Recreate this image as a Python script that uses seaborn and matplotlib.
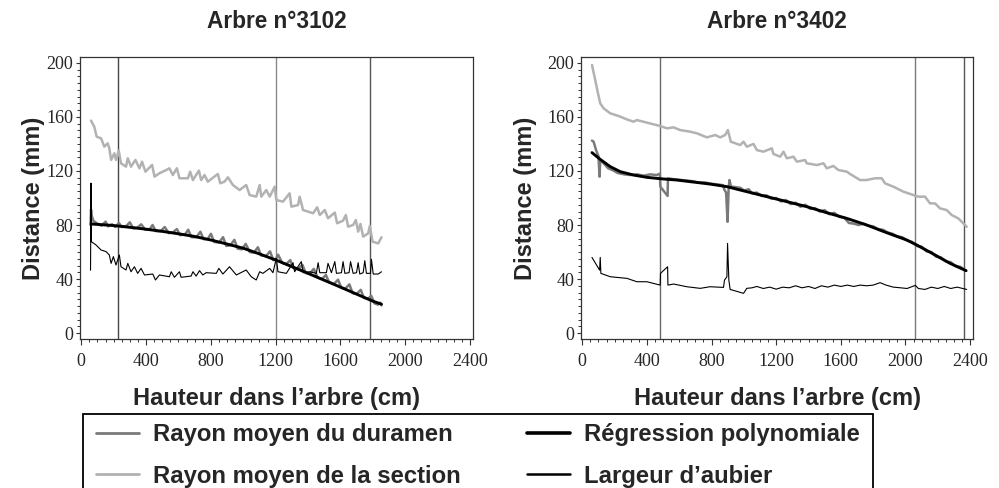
import matplotlib
matplotlib.use("Agg")
import matplotlib.pyplot as plt
import matplotlib.patches as mpatches
from matplotlib.lines import Line2D
from matplotlib.ticker import MultipleLocator, FixedLocator
import seaborn as sns
import pandas as pd

# ---------------- Arbre n°3102 ----------------
t1_section_x = [60, 80, 95, 122, 142, 163, 173, 184, 204, 214, 231, 245, 276, 287, 307, 334, 359, 375,
                396, 437, 452, 482, 524, 544, 565, 590, 606, 658, 672, 689, 726, 740, 761, 781, 843, 858,
                884, 905, 936, 977, 1018, 1039, 1080, 1101, 1111, 1142, 1163, 1194, 1204, 1245, 1286,
                1297, 1338, 1348, 1369, 1431, 1456, 1472, 1503, 1523, 1565, 1579, 1616, 1633, 1647, 1678,
                1695, 1709, 1723, 1740, 1771, 1781, 1798, 1833, 1853]
t1_section_y = [157.3, 152.8, 145.4, 144.2, 138.0, 140.5, 136.8, 128.2, 133.1, 128.2, 135.1, 125.7, 123.2,
                129.4, 123.2, 128.2, 122.0, 126.9, 119.5, 124.5, 115.8, 118.3, 120.7, 122.0, 117.0, 122.0,
                114.6, 114.6, 119.5, 113.3, 120.3, 113.3, 117.0, 112.1, 117.8, 110.9, 112.1, 115.3, 109.6,
                105.9, 109.6, 102.2, 101.0, 109.6, 101.0, 105.9, 101.0, 108.4, 98.5, 97.3, 103.5, 93.6,
                94.8, 101.0, 91.1, 88.7, 93.1, 87.4, 91.1, 85.0, 89.2, 81.3, 83.2, 87.4, 78.8, 80.0, 83.7,
                75.1, 80.8, 71.4, 73.8, 79.3, 67.7, 66.4, 70.9]

t1_duramen_x = [57, 60, 64, 75, 100, 125, 150, 165, 190, 210, 232, 250, 275, 300, 320, 345, 370, 395, 420,
                440, 460, 490, 515, 540, 565, 590, 610, 640, 660, 680, 710, 735, 755, 780, 800, 820, 850,
                875, 895, 920, 945, 965, 990, 1015, 1040, 1065, 1090, 1110, 1140, 1165, 1185, 1200, 1215,
                1240, 1265, 1290, 1310, 1340, 1365, 1385, 1410, 1435, 1460, 1485, 1510, 1530, 1560, 1585,
                1605, 1630, 1655, 1675, 1700, 1725, 1745, 1770, 1790, 1810, 1830, 1845, 1853]
t1_duramen_y = [80, 91.5, 87, 83, 81, 79.5, 82.5, 79, 80.5, 78.5, 81.5, 78.5, 79, 82, 77.5, 78, 80.5, 76.5,
                76.5, 80, 75.5, 75.5, 78.5, 74, 74.5, 77, 72.5, 73, 76.5, 71, 71, 75, 69.5, 69.5, 73.5, 67.5,
                67, 71, 64.5, 65, 69, 62.5, 62, 66, 60, 59.5, 63.5, 57.5, 57, 60.5, 54, 54.5, 58, 52, 51, 54,
                48, 47.5, 50.5, 44.5, 44, 47.5, 41, 40, 43, 37.5, 36.5, 39.5, 33.5, 33, 36, 29.5, 29, 32, 26,
                25.5, 27.5, 22, 21, 22.5, 20.5]

t1_regression_x = [60, 200, 300, 400, 500, 600, 700, 800, 900, 1000, 1100, 1200, 1300, 1400, 1500, 1600,
                   1700, 1800, 1853]
t1_regression_y = [80.8, 79.6, 78.3, 76.9, 75.3, 73.5, 71.5, 68.9, 65.9, 62.8, 58.6, 54.1, 49.2, 44.2,
                   39.1, 34.0, 28.8, 23.6, 21.4]

t1_aubier_x = [57, 60, 62, 91, 122, 153, 173, 184, 198, 214, 235, 245, 276, 287, 307, 328, 348, 369, 390,
               441, 458, 482, 544, 555, 575, 606, 616, 678, 689, 709, 730, 750, 771, 833, 849, 874, 915,
               957, 1018, 1049, 1080, 1101, 1121, 1163, 1183, 1204, 1214, 1266, 1307, 1317, 1358, 1369,
               1410, 1451, 1462, 1472, 1513, 1523, 1544, 1565, 1575, 1606, 1616, 1627, 1653, 1662, 1678,
               1699, 1709, 1719, 1740, 1750, 1760, 1785, 1791, 1802, 1833, 1853]
t1_aubier_y = [46.5, 111, 67.7, 65.2, 61.5, 60.3, 57.8, 51.6, 56.6, 50.4, 57.8, 49.1, 46.7, 51.6, 45.4,
               49.1, 44.2, 47.9, 43.0, 43.7, 39.3, 43.0, 41.7, 45.4, 41.3, 45.4, 41.3, 42.2, 45.4, 42.2,
               46.2, 43.0, 44.7, 44.2, 47.9, 43.7, 49.1, 43.0, 46.7, 41.7, 39.3, 45.4, 44.2, 47.9, 44.7,
               55.3, 45.4, 44.2, 52.1, 45.4, 52.9, 44.7, 45.4, 44.2, 52.1, 44.7, 44.7, 51.6, 44.7, 52.9,
               44.2, 44.7, 52.9, 44.2, 44.7, 52.9, 44.2, 44.7, 52.1, 43.7, 44.7, 53.6, 44.2, 44.2, 54.6,
               43.7, 43.7, 45.4]

t1_vlines = [224, 1200, 1783]

# ---------------- Arbre n°3402 ----------------
t2_section_x = [60, 80, 95, 111, 132, 173, 225, 276, 317, 338, 400, 482, 524, 565, 606, 668, 709, 771, 823,
                853, 884, 901, 919, 977, 998, 1018, 1060, 1080, 1121, 1173, 1183, 1225, 1245, 1266, 1307,
                1328, 1379, 1389, 1451, 1493, 1513, 1554, 1585, 1637, 1657, 1719, 1760, 1812, 1853, 1874,
                1925, 1987, 2049, 2080, 2121, 2152, 2183, 2214, 2255, 2286, 2327, 2358, 2379]
t2_section_y = [198.5, 187.4, 178.7, 170.1, 166.4, 162.7, 160.7, 158.2, 156.5, 157.7, 155.8, 153.3, 151.6,
                152.3, 150.3, 149.1, 147.9, 144.9, 146.6, 144.9, 146.6, 150.3, 141.7, 139.2, 141.7, 138.0,
                140.0, 135.5, 134.3, 136.8, 132.6, 130.6, 134.3, 129.4, 130.6, 126.9, 128.1, 125.7, 124.4,
                125.7, 122.0, 123.7, 120.7, 119.5, 117.8, 113.3, 113.3, 114.6, 114.6, 110.8, 108.4, 104.7,
                102.2, 101.0, 101.0, 96.0, 96.0, 92.3, 91.1, 87.4, 84.9, 81.2, 78.7]

t2_duramen_x = [60, 70, 85, 100, 107, 111, 132, 160, 190, 220, 260, 300, 340, 380, 420, 460, 480, 483, 528,
                530, 560, 600, 640, 680, 720, 760, 800, 840, 870, 880, 890, 899, 906, 911, 920, 950, 980,
                1000, 1030, 1050, 1080, 1110, 1140, 1170, 1200, 1230, 1260, 1290, 1320, 1350, 1380, 1410,
                1440, 1470, 1500, 1530, 1560, 1590, 1620, 1650, 1680, 1710, 1740, 1770, 1800, 1830, 1860,
                1890, 1920, 1950, 1980, 2010, 2040, 2070, 2100, 2130, 2160, 2190, 2220, 2250, 2280, 2310,
                2340, 2375]
t2_duramen_y = [142.5, 141.7, 135.5, 131, 115.8, 128.1, 125.7, 122, 120.5, 118.5, 117.5, 117, 117.5, 116.5,
                117.5, 117, 118, 108.4, 101.5, 114.6, 114, 113.5, 113, 112.5, 111.5, 111.5, 110.5, 110,
                109.5, 106, 104, 82.4, 108, 113.3, 108.5, 108, 107.5, 105.5, 106.5, 103.5, 104, 101.5, 102,
                99.5, 100, 97.5, 98.5, 95.5, 96.5, 93.5, 95, 92, 92.5, 90, 91, 88, 89, 86, 85.5, 81.5, 81,
                80, 81, 79.5, 79, 77, 76.5, 74.5, 73.5, 71.5, 71, 68.5, 67.5, 64.5, 64, 60.5, 60, 56.5, 56,
                53, 52.5, 49.5, 49, 46]

t2_regression_x = [60, 111, 173, 235, 317, 400, 482, 585, 689, 792, 895, 1018, 1142, 1266, 1389, 1513,
                   1637, 1760, 1884, 2008, 2070, 2173, 2276, 2375]
t2_regression_y = [133.6, 128.6, 123.2, 119.5, 117.0, 115.3, 114.3, 113.3, 111.8, 110.3, 108.4, 104.7,
                   101.0, 97.3, 93.6, 89.1, 84.9, 80.0, 74.3, 68.9, 65.2, 58.5, 51.6, 46.2]

t2_aubier_x = [60, 107, 111, 115, 173, 276, 338, 400, 482, 484, 528, 530, 565, 647, 730, 790, 874, 880, 895,
               899, 907, 915, 998, 1018, 1050, 1080, 1120, 1160, 1200, 1240, 1280, 1320, 1360, 1400, 1440,
               1480, 1520, 1560, 1600, 1640, 1680, 1720, 1760, 1800, 1843, 1880, 1925, 1970, 2010, 2061,
               2080, 2121, 2160, 2200, 2240, 2280, 2320, 2379]
t2_aubier_y = [56.0, 46.6, 56.0, 44.2, 41.7, 40.5, 38.0, 38.0, 35.5, 44.2, 49.1, 35.5, 36.3, 34.3, 33.1,
               34.3, 33.8, 39.2, 41.7, 66.4, 39.2, 32.3, 29.4, 33.1, 33.5, 34.5, 33, 34, 32.5, 34, 33.5, 35,
               33.5, 34.5, 33, 35, 34, 35.5, 34.5, 35.5, 34.5, 35.5, 35, 35.5, 37.3, 35.5, 34, 33.5, 33,
               35.3, 33, 32.3, 34, 33, 34.5, 33, 34, 32.3]

t2_vlines = [482, 2061, 2364]

titles = ["Arbre n°3102", "Arbre n°3402"]
x_ticks = [0, 400, 800, 1200, 1600, 2000, 2400]
y_ticks = [0, 40, 80, 120, 160, 200]
legend_labels = ["Rayon moyen du duramen", "Rayon moyen de la section",
                 "Régression polynomiale", "Largeur d’aubier"]

# ---------------- styles ----------------
sns.set_style("ticks")
plt.rcParams["font.family"] = ["Liberation Sans", "DejaVu Sans"]

C_DUR = "#7a7a7a"
C_SEC = "#b2b2b2"
C_REG = "#000000"
C_AUB = "#000000"

fig = plt.figure(figsize=(9.99, 4.88), dpi=100)
W, H = 999.0, 488.0
ax1 = fig.add_axes([80 / W, 1 - 339 / H, 393 / W, 282 / H])
ax2 = fig.add_axes([581 / W, 1 - 339 / H, 392 / W, 282 / H])

panels = [
    (ax1, t1_section_x, t1_section_y, t1_duramen_x, t1_duramen_y, t1_regression_x, t1_regression_y,
     t1_aubier_x, t1_aubier_y, t1_vlines, ["#474747", "#8a8a8a", "#555555"]),
    (ax2, t2_section_x, t2_section_y, t2_duramen_x, t2_duramen_y, t2_regression_x, t2_regression_y,
     t2_aubier_x, t2_aubier_y, t2_vlines, ["#6a6a6a", "#7a7a7a", "#555555"]),
]

serif = ["Liberation Serif", "DejaVu Serif"]

for i, (ax, sx, sy, dx, dy, rx, ry, ax_x, ax_y, vl, vcols) in enumerate(panels):
    for xv, c in zip(vl, vcols):
        ax.axvline(xv, color=c, lw=1.0, zorder=1)
    sns.lineplot(data=pd.DataFrame({"x": sx, "y": sy}), x="x", y="y", ax=ax, color=C_SEC,
                 lw=1.8, estimator=None, sort=False, zorder=2)
    sns.lineplot(data=pd.DataFrame({"x": dx, "y": dy}), x="x", y="y", ax=ax, color=C_DUR,
                 lw=1.8, estimator=None, sort=False, zorder=3)
    sns.lineplot(data=pd.DataFrame({"x": ax_x, "y": ax_y}), x="x", y="y", ax=ax, color=C_AUB,
                 lw=0.8, estimator=None, sort=False, zorder=4)
    sns.lineplot(data=pd.DataFrame({"x": rx, "y": ry}), x="x", y="y", ax=ax, color=C_REG,
                 lw=2.1, estimator=None, sort=False, zorder=5)

    ax.set_xlim(-8, 2418)
    ax.set_ylim(-4.4, 204.4)
    ax.xaxis.set_major_locator(FixedLocator(x_ticks))
    ax.yaxis.set_major_locator(FixedLocator(y_ticks))
    ax.xaxis.set_minor_locator(MultipleLocator(50))
    ax.yaxis.set_minor_locator(MultipleLocator(5))
    ax.set_xticklabels([str(v) for v in x_ticks], fontfamily=serif, fontsize=13)
    ax.set_yticklabels([str(v) for v in y_ticks], fontfamily=serif, fontsize=13)
    ax.tick_params(which="major", direction="out", length=3.2, width=0.8, color="#333333", pad=1.5)
    ax.tick_params(which="minor", direction="out", length=2.0, width=0.7, color="#333333")
    ax.tick_params(axis="x", which="major", length=4.2, pad=6)
    for sp in ax.spines.values():
        sp.set_visible(True)
        sp.set_color("#333333")
        sp.set_linewidth(0.9)

    ax.set_title(titles[i], fontsize=16.3, fontweight="bold", pad=21)
    ax.set_xlabel("Hauteur dans l’arbre (cm)", fontsize=17, fontweight="bold", labelpad=12)
    ax.set_ylabel("Distance (mm)", fontsize=17, fontweight="bold")

ax1.yaxis.set_label_coords(-0.088, 0.5)
ax2.yaxis.set_label_coords(-0.113, 0.5)

# legend below the panels
handles = [
    Line2D([], [], color=C_DUR, lw=2.0),
    Line2D([], [], color=C_SEC, lw=2.0),
    Line2D([], [], color=C_REG, lw=2.6),
    Line2D([], [], color=C_AUB, lw=1.8),
]
fig.legend(handles, legend_labels, ncol=2, loc="upper left",
           bbox_to_anchor=(84 / W, 1 - 411 / H), frameon=False, borderpad=0,
           handlelength=1.8, handletextpad=0.6, columnspacing=2.75, labelspacing=0.78,
           prop={"family": ["Liberation Sans", "DejaVu Sans"], "weight": "bold", "size": 17.2})
fig.add_artist(mpatches.Rectangle((83 / W, -0.05), (873 - 83) / W, (488 - 414) / H + 0.05,
                                  transform=fig.transFigure, fill=False, ec="black", lw=1.3))

fig.savefig("out.png", dpi=100)
